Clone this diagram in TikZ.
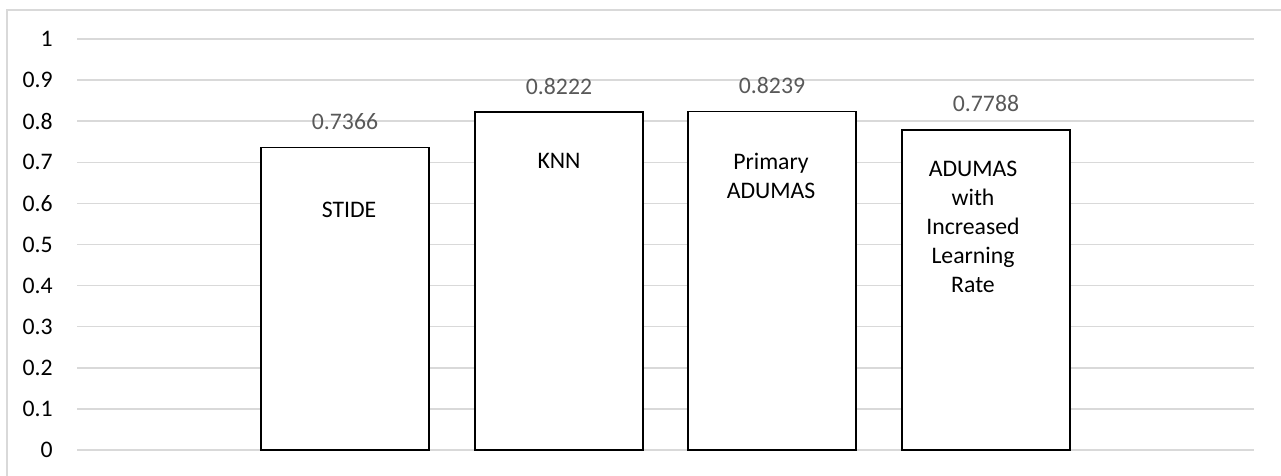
\documentclass[tikz,border=0pt]{standalone}
\usepackage{fontspec}
\setmainfont{Carlito}
\definecolor{gridgray}{HTML}{D9D9D9}
\definecolor{valgray}{HTML}{595959}
\begin{document}
\begin{tikzpicture}[x=0.75pt,y=-0.75pt,
  every node/.style={inner sep=0pt,font=\fontsize{17.8}{21.75}\selectfont},
  gridline/.style={draw=gridgray,line width=1.1pt},
  axislabel/.style={anchor=east,text=black},
  bar/.style={draw=black,fill=white,line width=1.1pt},
  vallabel/.style={text=valgray},
  catlabel/.style={align=center,text=black}]
  \useasboundingbox (0,0) rectangle (1281,475);
  \begin{scope}
    \clip (0,0) rectangle (1281,475);
    % chart frame
    \draw[gridgray,line width=1.1pt] (7,10) rectangle (1300,500);
  \end{scope}
  % horizontal grid lines and axis values
  \foreach \v/\t [count=\i from 0] in {0/0,0.1/0.1,0.2/0.2,0.3/0.3,0.4/0.4,0.5/0.5,0.6/0.6,0.7/0.7,0.8/0.8,0.9/0.9,1/1} {
    \draw[gridline] (77,{450-411*\v}) -- (1254,{450-411*\v});
    \node[axislabel] (ax\i) at (53,{450-411*\v}) {\t};
  }
  % bars
  \foreach \name/\xl/\val in {stide/261/0.7366,knn/475/0.8222,prim/688/0.8239,incr/902/0.7788} {
    \draw[bar] (\xl,450) rectangle ({\xl+168},{450-411*\val});
    \node[vallabel] (v\name) at ({\xl+84},{450-411*\val-26}) {\val};
  }
  % category names inside the bars
  \node[catlabel] (cstide) at (349,210) {STIDE};
  \node[catlabel] (cknn) at (559,161) {KNN};
  \node[catlabel] (cprim) at (771,175.5) {Primary\\ADUMAS};
  \node[catlabel] (cincr) at (973,226.5) {ADUMAS\\with\\Increased\\Learning\\Rate};
\end{tikzpicture}
\end{document}
